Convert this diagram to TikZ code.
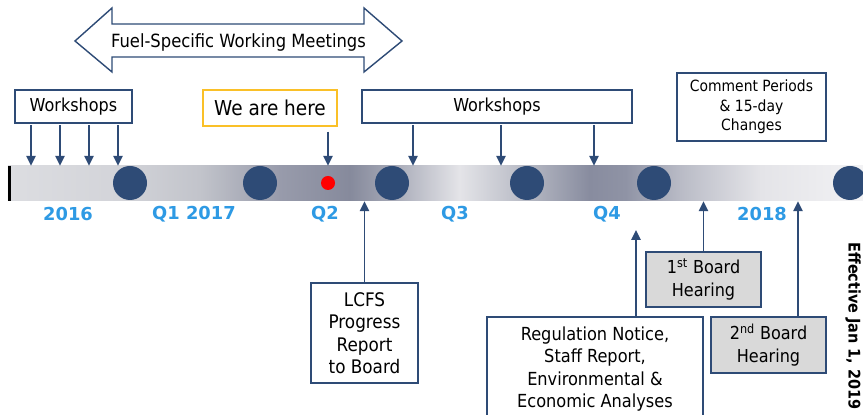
\documentclass[tikz,border=0pt]{standalone}
\usepackage{fontspec}
\setmainfont{DejaVu Sans Condensed}
\newfontfamily\qfont{DejaVu Sans}
\usetikzlibrary{positioning, arrows.meta}

\definecolor{navy}{RGB}{46,75,118}
\definecolor{qblue}{RGB}{46,154,228}
\definecolor{gold}{RGB}{250,192,40}
\definecolor{hearfill}{RGB}{217,217,217}
% bar colours, left to right
\definecolor{ba}{HTML}{DCDDE1}
\definecolor{bb}{HTML}{D3D4D9}
\definecolor{bc}{HTML}{C2C4CB}
\definecolor{bd}{HTML}{989BAB}
\definecolor{be}{HTML}{868A9C}
\definecolor{bf}{HTML}{A3A6B4}
\definecolor{bg}{HTML}{E4E4E8}
\definecolor{bh}{HTML}{B4B7C2}
\definecolor{bi}{HTML}{888C9F}
\definecolor{bj}{HTML}{8F93A5}
\definecolor{bk}{HTML}{B9BBC6}
\definecolor{bl}{HTML}{E4E4E8}
\definecolor{bm}{HTML}{F2F2F4}
\pgfdeclarehorizontalshading{barshade}{100bp}{color(0bp)=(ba); color(25bp)=(ba);
  color(31.5bp)=(bb); color(36.2bp)=(bc); color(40.9bp)=(bd); color(45bp)=(be);
  color(47.3bp)=(bf); color(51.4bp)=(bg); color(55.5bp)=(bh); color(59bp)=(bi);
  color(61.1bp)=(bj); color(64.3bp)=(bk); color(69bp)=(bl); color(75bp)=(bm);
  color(100bp)=(bm)}

\tikzset{
  evbox/.style={draw=navy, line width=1pt, fill=white, align=center, inner sep=2pt},
  hearbox/.style={evbox, fill=hearfill},
  ptr/.style={navy, line width=1.4pt, -{Triangle[width=6.5pt, length=7pt]}},
  qlabel/.style={font=\qfont\bfseries\fontsize{12.7}{14}\selectfont, text=qblue},
  milestone/.style={circle, fill=navy, minimum size=0.85cm, inner sep=0pt},
}

\begin{document}
\begin{tikzpicture}[font=\fontsize{12.7}{16}\selectfont]
\useasboundingbox (0,0) rectangle (21.575,10.375);

% Fuel-specific meetings
\draw[navy, line width=1pt, fill=white] (1.875,9.35) -- (2.8,10.175) -- (2.8,9.775)
  -- (9.1,9.775) -- (9.1,10.175) -- (10.05,9.35) -- (9.1,8.575) -- (9.1,8.95)
  -- (2.8,8.95) -- (2.8,8.575) -- cycle;
\node[font=\fontsize{12.95}{16}\selectfont] (fuel) at (5.9625,9.32) {Fuel-Specific Working Meetings};

% Timeline bar
\node[shading=barshade, minimum width=21.375cm, minimum height=0.875cm, inner sep=0pt] (bar) at (10.8875,5.7875) {};
\draw[line width=2pt] ([xshift=1pt]bar.north west) -- ([xshift=1pt]bar.south west);

% Milestones
\foreach \x/\n in {3.25/m1, 6.5/m2, 9.8/m3, 13.175/m4, 16.35/m5, 21.25/m6}
  \node[milestone] (\n) at (\x,5.8) {};
\node[circle, fill=red, minimum size=0.35cm, inner sep=0pt] (now) at (8.2,5.8) {};

% Quarter labels
\node[qlabel] (y16) at (1.7,5.025) {2016};
\node[qlabel] (q1) at (4.85,5.025) {Q1 2017};
\node[qlabel] (q2) at (8.125,5.025) {Q2};
\node[qlabel] (q3) at (11.375,5.025) {Q3};
\node[qlabel] (q4) at (15.175,5.025) {Q4};
\node[qlabel] (y18) at (19.05,5.025) {2018};

% Boxes above
\node[evbox, minimum width=2.925cm, minimum height=0.825cm] (ws1) at (1.8375,7.7125) {Workshops};
\node[draw=gold, line width=1pt, minimum width=3.35cm, minimum height=0.9cm, font=\fontsize{14.6}{17}\selectfont] (here) at (6.75,7.675) {We are here};
\node[evbox, minimum width=6.75cm, minimum height=0.825cm] (ws2) at (12.425,7.7125) {Workshops};
\node[evbox, minimum width=3.725cm, minimum height=1.7cm, font=\fontsize{11}{13.9}\selectfont] (cmt) at (18.7875,7.7) {Comment Periods\\ \& 15-day\\ Changes};

% Boxes below
\node[evbox, minimum width=2.675cm, minimum height=2.5cm, font=\fontsize{13.3}{16}\selectfont] (lcfs) at (9.1125,2.05) {LCFS\\ Progress\\ Report\\ to Board};
\node[evbox, minimum width=5.4cm, minimum height=2.6cm, font=\fontsize{12.8}{16.1}\selectfont] (reg) at (14.875,1.15) {Regulation Notice,\\ Staff Report,\\ Environmental \&\\ Economic Analyses};
\node[hearbox, minimum width=2.875cm, minimum height=1.375cm] (bh1) at (17.5875,3.3875) {1\textsuperscript{st} Board\\ Hearing};
\node[hearbox, minimum width=2.875cm, minimum height=1.4cm] (bh2) at (19.2125,1.75) {2\textsuperscript{nd} Board\\ Hearing};

\node[rotate=-90, font=\bfseries\fontsize{11.4}{13}\selectfont] (eff) at (21.325,2.225) {Effective Jan 1, 2019};

% Arrows
\foreach \x in {0.775,1.5,2.225,2.95}
  \draw[ptr, shorten <=1pt] (\x,0 |- ws1.south) -- (\x,0 |- bar.north);
\draw[ptr, shorten <=3.5pt] (8.2,0 |- here.south) -- (8.2,0 |- bar.north);
\foreach \x in {10.325,12.525,14.85}
  \draw[ptr, shorten <=1pt] (\x,0 |- ws2.south) -- (\x,0 |- bar.north);

\coordinate (regtip) at (15.9,4.625);
\draw[ptr] (lcfs.north) -- (lcfs.north |- bar.south);
\draw[ptr] (regtip |- reg.north) -- (regtip);
\draw[ptr] (bh1.north) -- (bh1.north |- bar.south);
\draw[ptr] (19.95,0 |- bh2.north) -- (19.95,0 |- bar.south);

\end{tikzpicture}
\end{document}
